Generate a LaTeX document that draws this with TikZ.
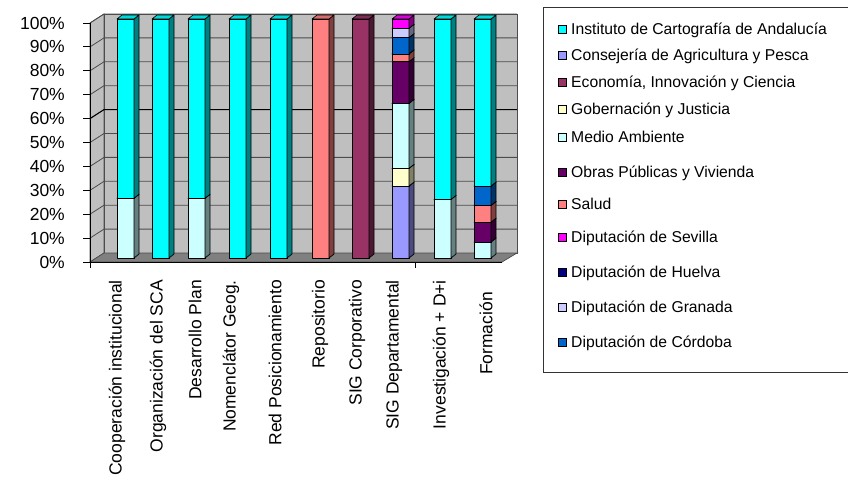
\documentclass[tikz,border=0pt]{standalone}
\usepackage{fontspec}
\setmainfont{Liberation Sans}
\usetikzlibrary{positioning,calc}

\definecolor{colICA}{HTML}{00FFFF}
\definecolor{colCAP}{HTML}{9999FF}
\definecolor{colEIC}{HTML}{993366}
\definecolor{colGJ}{HTML}{FFFFCC}
\definecolor{colMA}{HTML}{CCFFFF}
\definecolor{colOPV}{HTML}{660066}
\definecolor{colSAL}{HTML}{FF8080}
\definecolor{colSEV}{HTML}{FF00FF}
\definecolor{colHUE}{HTML}{000080}
\definecolor{colGRA}{HTML}{CCCCFF}
\definecolor{colCOR}{HTML}{0066CC}

% one piece of a stacked bar: left x, from %, to %, colour
\newcommand{\barseg}[4]{%
  \pgfmathsetmacro{\ylo}{258-2.39*#2}%
  \pgfmathsetmacro{\yhi}{258-2.39*#3}%
  \filldraw[seg, fill=#4] (#1,\ylo) rectangle (#1+17,\yhi);
  \filldraw[seg, fill=#4!50!black] (#1+17,\ylo) -- (#1+22,\ylo-4) -- (#1+22,\yhi-4) -- (#1+17,\yhi) -- cycle;
  \filldraw[seg, fill=#4!85!black] (#1,\yhi) -- (#1+5,\yhi-4) -- (#1+22,\yhi-4) -- (#1+17,\yhi) -- cycle;
}

\begin{document}
\begin{tikzpicture}[x=1pt, y=-1pt,
    seg/.style={draw=black, line width=0.7pt, line join=round},
    wall/.style={fill=black!25, draw=black!70, line width=0.7pt},
    gridln/.style={draw=black!70, line width=0.8pt},
    ticklbl/.style={anchor=east, inner sep=0pt, font=\fontsize{17.5}{20}\selectfont},
    catlbl/.style={rotate=90, anchor=east, inner sep=0pt, font=\fontsize{17.5}{20}\selectfont},
    leglbl/.style={anchor=base west, inner sep=0pt, font=\fontsize{15.7}{18}\selectfont},
    legsq/.style={draw=black, line width=0.6pt}]
    \useasboundingbox (0,0) rectangle (848,481);

    % Walls and floor
    \filldraw[wall] (90,262) -- (90,23) -- (104,14) -- (104,253) -- cycle;
    \filldraw[wall] (104,14) rectangle (517,253);
    \filldraw[wall, fill=black!50] (90,262) -- (104,253) -- (517,253) -- (502,262) -- cycle;

    % Grid
    \foreach \k in {1,...,10}
        \draw[gridln] (90,{262-23.9*\k}) -- (104,{253-23.9*\k}) -- (517,{253-23.9*\k});
    \draw[black, line width=1pt] (90,{262-23.9*6}) -- (104,{253-23.9*6}) -- (517,{253-23.9*6});

    % Bars
    \foreach \bx/\segs in {
        117/{0/25/colMA,25/100/colICA},
        152/{0/100/colICA},
        188/{0/25/colMA,25/100/colICA},
        229/{0/100/colICA},
        270/{0/100/colICA},
        312/{0/100/colSAL},
        352/{0/100/colEIC},
        392/{0/30.1/colCAP,30.1/37.5/colGJ,37.5/64.7/colMA,64.7/82.1/colOPV,82.1/85.4/colSAL,85.4/92.2/colCOR,92.2/96.1/colGRA,96.1/100/colSEV},
        434/{0/24.5/colMA,24.5/100/colICA},
        474/{0/6.7/colMA,6.7/15/colOPV,15/22/colSAL,22/30.1/colCOR,30.1/100/colICA}}
    {
        \foreach \lo/\hi/\c in \segs {\barseg{\bx}{\lo}{\hi}{\c}}
    }

    % Axes
    \draw[black, line width=0.8pt] (90,23) -- (90,268);
    \draw[black, line width=0.8pt] (90,262) -- (502,262);
    \draw[black, line width=0.8pt] (415,262) -- (415,268);
    \foreach \k [evaluate=\k as \pc using int(10*\k)] in {0,...,10} {
        \draw[black, line width=0.8pt] (83,{262-23.9*\k}) -- (90,{262-23.9*\k});
        \node[ticklbl] (tick\k) at (65,{262-23.9*\k}) {\pc\%};
    }

    % Category labels
    \foreach \cx/\cy/\txt [count=\i] in {117/280/Cooperación institucional, 158/280/Organización del SCA,
        195/280/Desarrollo Plan, 231/280/Nomenclátor Geog., 275/280/Red Posicionamiento,
        320/280/Repositorio, 357/280/SIG Corporativo, 394/280/SIG Departamental,
        441/280/Investigación + D+i, 486/292/Formación}
        \node[catlbl] (cat\i) at (\cx,\cy) {\txt};

    % Legend
    \draw[draw=black!80, line width=0.8pt] (543,7) rectangle (852,372);
    \foreach \ly/\c/\txt [count=\i] in {29/colICA/Instituto de Cartografía de Andalucía,
        55/colCAP/Consejería de Agricultura y Pesca, 82/colEIC/{Economía, Innovación y Ciencia},
        109/colGJ/Gobernación y Justicia, 137/colMA/Medio Ambiente,
        172/colOPV/Obras Públicas y Vivienda, 204/colSAL/Salud,
        237/colSEV/Diputación de Sevilla, 272/colHUE/Diputación de Huelva,
        307/colGRA/Diputación de Granada, 342/colCOR/Diputación de Córdoba} {
        \filldraw[legsq, fill=\c] (558,\ly-4) rectangle (566,\ly+4);
        \node[leglbl] (leg\i) at (571,\ly+5.5) {\txt};
    }
\end{tikzpicture}
\end{document}
